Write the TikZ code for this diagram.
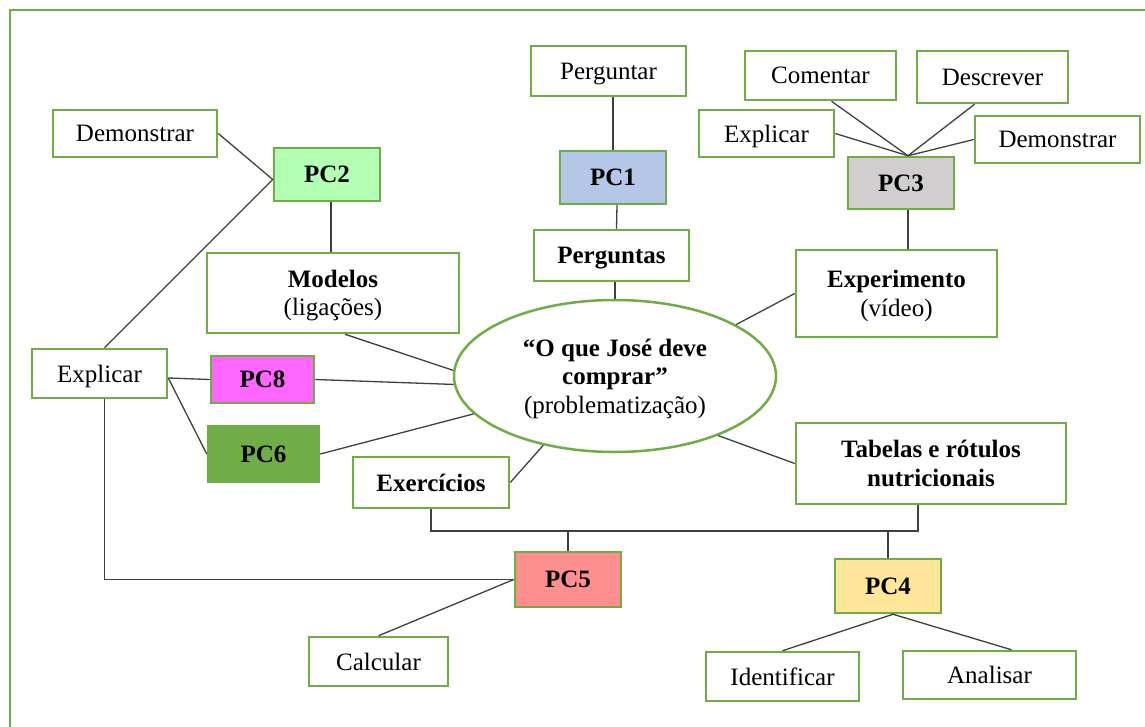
\documentclass[tikz,border=0pt]{standalone}
\usepackage{fontspec}
\setmainfont{Liberation Serif}
\usetikzlibrary{shapes.geometric,calc}
\definecolor{boxgreen}{HTML}{70AD47}
\definecolor{linegray}{HTML}{404040}
\definecolor{pctwo}{HTML}{B3FFB3}
\definecolor{pcone}{HTML}{B4C7E7}
\definecolor{pcthree}{HTML}{D0CECE}
\definecolor{pceight}{HTML}{FF66FF}
\definecolor{pcfive}{HTML}{FF8F8F}
\definecolor{pcfour}{HTML}{FFE699}
\newcommand{\fs}{\fontsize{25}{28.5}\selectfont}
\tikzset{
  wbox/.style={draw=boxgreen, line width=2.5pt, fill=white, inner sep=0pt, align=center, font=\fs, text depth=0pt},
  pcbox/.style={wbox, font=\fs\bfseries},
  link/.style={draw=linegray, line width=1.3pt},
}
\begin{document}
\begin{tikzpicture}[x=1pt,y=-1pt]
\useasboundingbox (0,0) rectangle (1145,727);
\draw[boxgreen, line width=2.8pt] (10,727) -- (10,10) -- (1145,10);

% nodes
\node[wbox, minimum width=164pt, minimum height=47pt] (demL) at (135,133.5) {Demonstrar};
\node[pcbox, fill=pctwo, minimum width=106pt, minimum height=53pt] (pc2) at (327,174.5) {PC2};
\node[wbox, minimum width=155pt, minimum height=50pt] (perguntar) at (608.5,71) {Perguntar};
\node[pcbox, fill=pcone, minimum width=106pt, minimum height=53pt] (pc1) at (613,177.5) {PC1};
\node[pcbox, minimum width=155pt, minimum height=51pt] (perguntas) at (611.5,255.5) {Perguntas};
\node[wbox, minimum width=151pt, minimum height=49pt] (comentar) at (820.5,75.5) {Comentar};
\node[wbox, minimum width=151pt, minimum height=52pt] (descrever) at (992.5,77) {Descrever};
\node[wbox, minimum width=135pt, minimum height=47pt] (explT) at (766.5,133.5) {Explicar};
\node[wbox, minimum width=165pt, minimum height=47pt] (demR) at (1057.5,139.5) {Demonstrar};
\node[pcbox, fill=pcthree, minimum width=106pt, minimum height=52pt] (pc3) at (901,183) {PC3};
\node[wbox, minimum width=201pt, minimum height=87pt] (exper) at (896.5,293.5) {\textbf{Experimento}\\(vídeo)};
\node[wbox, minimum width=252pt, minimum height=80pt] (modelos) at (333,293) {\textbf{Modelos}\\(ligações)};
\node[wbox, minimum width=135pt, minimum height=49pt] (explL) at (99.5,373.5) {Explicar};
\node[pcbox, fill=pceight, minimum width=103pt, minimum height=47pt] (pc8) at (262.5,379.5) {PC8};
\node[pcbox, fill=boxgreen, minimum width=111pt, minimum height=56pt] (pc6) at (263.5,454) {PC6};
\node[wbox, ellipse, minimum width=322pt, minimum height=152pt] (ell) at (615,376)
  {\textbf{“O que José deve}\\\textbf{comprar”}\\(problematização)};
\node[pcbox, minimum width=156pt, minimum height=51pt] (exerc) at (431,482.5) {Exercícios};
\node[pcbox, minimum width=270pt, minimum height=81pt] (tabelas) at (931,463.5) {Tabelas e rótulos\\nutricionais};
\node[pcbox, fill=pcfive, minimum width=106pt, minimum height=55pt] (pc5) at (568,579.5) {PC5};
\node[pcbox, fill=pcfour, minimum width=106pt, minimum height=54pt] (pc4) at (888,586) {PC4};
\node[wbox, minimum width=139pt, minimum height=49pt] (calcular) at (378.5,661.5) {Calcular};
\node[wbox, minimum width=153pt, minimum height=49pt] (identificar) at (782.5,676.5) {Identificar};
\node[wbox, minimum width=173pt, minimum height=48pt] (analisar) at (989.5,675) {Analisar};

% junction coordinates
\coordinate (pc2j) at ([yshift=-5pt]pc2.west);
\coordinate (pc3j) at ([xshift=7pt]pc3.north);
\coordinate (explj) at ([yshift=-4.5pt]explL.east);
\coordinate (pc4j) at ([xshift=5pt]pc4.south);
\coordinate (tabj) at ([xshift=-13pt]tabelas.south);
\coordinate (busy) at (0,531);

% connectors
\draw[link] (demL.east) -- (pc2j);
\draw[link] (pc2j) -- ([xshift=5pt]explL.north);
\draw[link] ([xshift=4pt]pc2.south) -- ([xshift=4pt]pc2.south |- modelos.north);
\draw[link] (pc1.north) -- (pc1.north |- perguntar.south);
\draw[link] ([xshift=4pt]pc1.south) -- ([xshift=5pt]perguntas.north);
\draw[link] (ell.north) -- (ell.north |- perguntas.south);
\draw[link] ([xshift=11pt]comentar.south) -- (pc3j);
\draw[link] ([xshift=-18pt]descrever.south) -- (pc3j);
\draw[link] (explT.east) -- (pc3j);
\draw[link] (demR.west) -- (pc3j);
\draw[link] ([xshift=7pt]pc3.south) -- ([xshift=7pt]pc3.south |- exper.north);
\draw[link] (exper.west) -- (ell.23);
\draw[link] ([xshift=12pt]modelos.south) -- (ell.178.6);
\draw[link] (explj) -- (pc8.west);
\draw[link] (explj) -- (pc6.west);
\draw[link] (pc8.east) -- (ell.183.9);
\draw[link] (pc6.east) -- (ell.195);
\draw[link] (exerc.east) -- (ell.224.6);
\draw[link] (tabelas.west) -- (ell.-30.5);
\draw[link] ([xshift=5pt]explL.south) |- (pc5.west);
\draw[link] (calcular.north) -- (pc5.west);
\draw[link] (exerc.south) |- (busy -| tabj) -- (tabj);
\draw[link] (pc5.north) -- (pc5.north |- busy);
\draw[link] (pc4.north) -- (pc4.north |- busy);
\draw[link] (pc4j) -- (identificar.north);
\draw[link] (pc4j) -- ([xshift=22pt]analisar.north);
\end{tikzpicture}
\end{document}
